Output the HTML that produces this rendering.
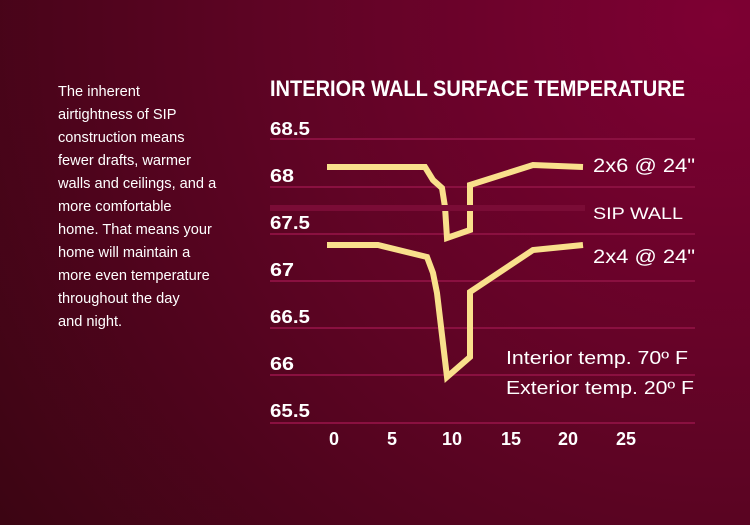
<!DOCTYPE html>
<html><head><meta charset="utf-8"><style>html,body{margin:0;padding:0;}svg{display:block}</style></head>
<body>
<svg width="750" height="525" viewBox="0 0 750 525" xmlns="http://www.w3.org/2000/svg">
<defs>
<radialGradient id="bg" cx="720" cy="20" r="900" gradientUnits="userSpaceOnUse">
<stop offset="0" stop-color="#7e0033"/>
<stop offset="0.5" stop-color="#5e0424"/>
<stop offset="1" stop-color="#3a0512"/>
</radialGradient>
</defs>
<rect width="750" height="525" fill="url(#bg)"/>
<g font-family="Liberation Sans, sans-serif" fill="#fff" font-size="14.6">
<text x="58" y="96">The inherent</text>
<text x="58" y="119">airtightness of SIP</text>
<text x="58" y="142">construction means</text>
<text x="58" y="165">fewer drafts, warmer</text>
<text x="58" y="188">walls and ceilings, and a</text>
<text x="58" y="211">more comfortable</text>
<text x="58" y="234">home. That means your</text>
<text x="58" y="257">home will maintain a</text>
<text x="58" y="280">more even temperature</text>
<text x="58" y="303">throughout the day</text>
<text x="58" y="326">and night.</text>
</g>
<g stroke="#8a1040" stroke-width="2">
<line x1="270" y1="139" x2="695" y2="139"/>
<line x1="270" y1="187" x2="695" y2="187"/>
<line x1="270" y1="234" x2="695" y2="234"/>
<line x1="270" y1="281" x2="695" y2="281"/>
<line x1="270" y1="328" x2="695" y2="328"/>
<line x1="270" y1="375" x2="695" y2="375"/>
<line x1="270" y1="423" x2="695" y2="423"/>
</g>
<g fill="none" stroke="#f9e08c" stroke-width="6" stroke-linejoin="miter">
<polyline points="327,167 425,167 433,180 442,188 445,207 447,238 470,230 470,185 533,165 583,167"/>
<polyline points="327,245 378,245 427,257 433,273 437,293 447,377 470,357 470,292 533,250 583,245"/>
</g>
<line x1="270" y1="208" x2="585" y2="208" stroke="#7a0c36" stroke-width="6"/>
<g font-family="Liberation Sans, sans-serif" font-weight="bold" fill="#fff" font-size="18">
<text x="270" y="135" textLength="40" lengthAdjust="spacingAndGlyphs">68.5</text>
<text x="270" y="182" textLength="24" lengthAdjust="spacingAndGlyphs">68</text>
<text x="270" y="229" textLength="40" lengthAdjust="spacingAndGlyphs">67.5</text>
<text x="270" y="276" textLength="24" lengthAdjust="spacingAndGlyphs">67</text>
<text x="270" y="323" textLength="40" lengthAdjust="spacingAndGlyphs">66.5</text>
<text x="270" y="370" textLength="24" lengthAdjust="spacingAndGlyphs">66</text>
<text x="270" y="417" textLength="40" lengthAdjust="spacingAndGlyphs">65.5</text>
<g text-anchor="middle">
<text x="334" y="445">0</text>
<text x="392" y="445">5</text>
<text x="452" y="445">10</text>
<text x="511" y="445">15</text>
<text x="568" y="445">20</text>
<text x="626" y="445">25</text>
</g>
<text x="270" y="96" font-size="22" textLength="415" lengthAdjust="spacingAndGlyphs">INTERIOR WALL SURFACE TEMPERATURE</text>
</g>
<g font-family="Liberation Sans, sans-serif" fill="#fff" font-size="19">
<text x="593" y="172" textLength="102" lengthAdjust="spacingAndGlyphs">2x6 @ 24"</text>
<text x="593" y="219" font-size="17" textLength="90" lengthAdjust="spacingAndGlyphs">SIP WALL</text>
<text x="593" y="263" textLength="102" lengthAdjust="spacingAndGlyphs">2x4 @ 24"</text>
<text x="506" y="364" font-size="18" textLength="182" lengthAdjust="spacingAndGlyphs">Interior temp. 70º F</text>
<text x="506" y="394" font-size="18" textLength="188" lengthAdjust="spacingAndGlyphs">Exterior temp. 20º F</text>
</g>
</svg>
</body></html>
